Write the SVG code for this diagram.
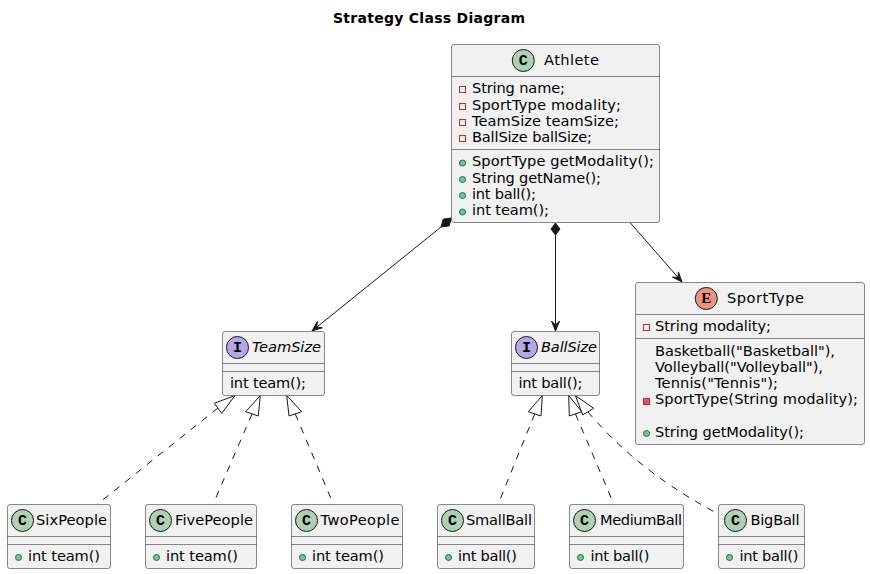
<svg xmlns="http://www.w3.org/2000/svg" width="870" height="574" viewBox="0 0 870 574">
<style>
text{font-family:"DejaVu Sans",sans-serif;font-size:14.6px;fill:#000}
.title{font-weight:bold;font-size:14px}
.box{fill:#F1F1F1;stroke:#181818;stroke-width:.5}
.sep{stroke:#181818;stroke-width:.5;fill:none}
.ic{stroke:#181818;stroke-width:1}
.c{fill:#ADD1B2}.i{fill:#B4A7E5}.e{fill:#EB937F}
text.g{font-family:"Liberation Mono",monospace;font-weight:bold;font-size:15px;text-anchor:middle}
text.gs{font-family:"Liberation Serif",serif;font-weight:bold;font-size:15px;text-anchor:middle}
.abs{font-style:italic}
.pa{fill:none;stroke:#C82930;stroke-width:1}
.pm{fill:#F24D5C;stroke:#C82930;stroke-width:1}
.pub{fill:#84BE84;stroke:#038048;stroke-width:1}
.l{fill:none;stroke:#181818;stroke-width:1}
.d{stroke-dasharray:7 7}
.h{fill:#181818;stroke:#181818;stroke-width:1}
.t{fill:none;stroke:#181818;stroke-width:1}
</style>
<text class="title" x="333" y="23" textLength="192">Strategy Class Diagram</text>
<g id="connectors">
<path class="l" d="M441,227L312,331"/>
<path class="h" d="M451.500,218L443.300,219.100L441,227L449.100,225.900Z"/>
<path class="h" d="M312,331L322.300,327.800L316.700,327.200L317.300,321.600Z"/>
<path class="l" d="M555.500,235V331"/>
<path class="h" d="M555.500,223L551,229L555.500,235L560,229Z"/>
<path class="h" d="M555.500,331L559.500,321L555.500,325L551.500,321Z"/>
<path class="l" d="M630,222.500L682,282"/>
<path class="h" d="M682,282L678.400,271.900L678,277.500L672.400,277.100Z"/>
<path class="l d" d="M218,408L97,504.500"/>
<path class="t" d="M235,395.500L214.300,403.300L221.700,413.300Z"/>
<path class="l d" d="M252,414L213,504.500"/>
<path class="t" d="M260.300,395.500L245.700,411.700L258.300,416Z"/>
<path class="l d" d="M295.300,414L333.500,504.500"/>
<path class="t" d="M286.700,395.500L301.700,411.700L289,416Z"/>
<path class="l d" d="M534.700,414L498,504.500"/>
<path class="t" d="M542.300,395.500L528.300,411.700L541,416Z"/>
<path class="l d" d="M575.500,414L614,504.500"/>
<path class="t" d="M568.700,395.500L581.700,411.700L569.300,416Z"/>
<path class="l d" d="M588,412C612,440 650,478 718.500,514"/>
<path class="t" d="M575.300,395.500L593.700,408.300L582.700,415Z"/>
</g>
<g id="Athlete">
<rect class="box" x="451.500" y="44.500" width="208" height="178" rx="2.500"/>
<path class="sep" d="M451.500,76.500H659.500M451.500,149.500H659.500"/>
<circle class="ic c" cx="523.300" cy="60.500" r="11"/><text class="g" x="523.300" y="65">C</text>
<text x="544" y="65" textLength="55">Athlete</text>
<rect class="pa" x="459.500" y="86.500" width="6" height="6"/><text x="472" y="93" textLength="93">String name;</text>
<rect class="pa" x="459.500" y="103.500" width="6" height="6"/><text x="472" y="110" textLength="149">SportType modality;</text>
<rect class="pa" x="459.500" y="119.500" width="6" height="6"/><text x="472" y="126" textLength="147">TeamSize teamSize;</text>
<rect class="pa" x="459.500" y="135.500" width="6" height="6"/><text x="472" y="142" textLength="120">BallSize ballSize;</text>
<circle class="pub" cx="462.500" cy="163" r="3"/><text x="472" y="166" textLength="182">SportType getModality();</text>
<circle class="pub" cx="462.500" cy="179.500" r="3"/><text x="472" y="183" textLength="129">String getName();</text>
<circle class="pub" cx="462.500" cy="195.500" r="3"/><text x="472" y="199" textLength="64">int ball();</text>
<circle class="pub" cx="462.500" cy="212" r="3"/><text x="472" y="215" textLength="77">int team();</text>
</g>
<g id="SportType">
<rect class="box" x="635.500" y="282.500" width="229" height="162" rx="2.500"/>
<path class="sep" d="M635.500,314.500H864.500M635.500,338.500H864.500"/>
<circle class="ic e" cx="706.300" cy="298.500" r="11"/><text class="gs" x="706.300" y="303">E</text>
<text x="727" y="303" textLength="77">SportType</text>
<rect class="pa" x="643.500" y="324.500" width="6" height="6"/><text x="655" y="331" textLength="116">String modality;</text>
<text x="655" y="356" textLength="180">Basketball("Basketball"),</text>
<text x="655" y="372" textLength="168">Volleyball("Volleyball"),</text>
<text x="655" y="388" textLength="123">Tennis("Tennis");</text>
<rect class="pm" x="643.500" y="398.500" width="6" height="6"/><text x="655" y="404" textLength="203">SportType(String modality);</text>
<circle class="pub" cx="646.500" cy="433.500" r="3"/><text x="655" y="437" textLength="149">String getModality();</text>
</g>
<g id="TeamSize">
<rect class="box" x="222.500" y="331.500" width="102" height="64" rx="2.500"/>
<path class="sep" d="M222.500,363.500H324.500M222.500,371.500H324.500"/>
<circle class="ic i" cx="237.500" cy="347.500" r="11"/><text class="g" x="237.500" y="352">I</text>
<text class="abs" x="252" y="352" textLength="69">TeamSize</text>
<text x="230" y="388" textLength="76">int team();</text>
</g>
<g id="BallSize">
<rect class="box" x="511.500" y="331.500" width="88" height="64" rx="2.500"/>
<path class="sep" d="M511.500,363.500H599.500M511.500,371.500H599.500"/>
<circle class="ic i" cx="526.500" cy="347.500" r="11"/><text class="g" x="526.500" y="352">I</text>
<text class="abs" x="541" y="352" textLength="56">BallSize</text>
<text x="518.500" y="388" textLength="64">int ball();</text>
</g>
<g id="SixPeople">
<rect class="box" x="7.500" y="504.500" width="103" height="64" rx="2.500"/>
<path class="sep" d="M7.500,536.500H110.500M7.500,544.500H110.500"/>
<circle class="ic c" cx="22.500" cy="520.500" r="11"/><text class="g" x="22.500" y="525">C</text>
<text x="36" y="525" textLength="71">SixPeople</text>
<circle class="pub" cx="18.500" cy="557.500" r="3"/><text x="28" y="561" textLength="72">int team()</text>
</g>
<g id="FivePeople">
<rect class="box" x="145.500" y="504.500" width="111" height="64" rx="2.500"/>
<path class="sep" d="M145.500,536.500H256.500M145.500,544.500H256.500"/>
<circle class="ic c" cx="160.500" cy="520.500" r="11"/><text class="g" x="160.500" y="525">C</text>
<text x="175" y="525" textLength="78">FivePeople</text>
<circle class="pub" cx="156.500" cy="557.500" r="3"/><text x="166" y="561" textLength="72">int team()</text>
</g>
<g id="TwoPeople">
<rect class="box" x="291.500" y="504.500" width="111" height="64" rx="2.500"/>
<path class="sep" d="M291.500,536.500H402.500M291.500,544.500H402.500"/>
<circle class="ic c" cx="306.500" cy="520.500" r="11"/><text class="g" x="306.500" y="525">C</text>
<text x="320.500" y="525" textLength="79">TwoPeople</text>
<circle class="pub" cx="302.500" cy="557.500" r="3"/><text x="312" y="561" textLength="72">int team()</text>
</g>
<g id="SmallBall">
<rect class="box" x="437.500" y="504.500" width="97" height="64" rx="2.500"/>
<path class="sep" d="M437.500,536.500H534.500M437.500,544.500H534.500"/>
<circle class="ic c" cx="452.500" cy="520.500" r="11"/><text class="g" x="452.500" y="525">C</text>
<text x="466" y="525" textLength="66">SmallBall</text>
<circle class="pub" cx="448.500" cy="557.500" r="3"/><text x="458" y="561" textLength="59">int ball()</text>
</g>
<g id="MediumBall">
<rect class="box" x="569.500" y="504.500" width="114" height="64" rx="2.500"/>
<path class="sep" d="M569.500,536.500H683.500M569.500,544.500H683.500"/>
<circle class="ic c" cx="584.500" cy="520.500" r="11"/><text class="g" x="584.500" y="525">C</text>
<text x="600" y="525" textLength="82">MediumBall</text>
<circle class="pub" cx="580.500" cy="557.500" r="3"/><text x="590.500" y="561" textLength="59">int ball()</text>
</g>
<g id="BigBall">
<rect class="box" x="718.500" y="504.500" width="86" height="64" rx="2.500"/>
<path class="sep" d="M718.500,536.500H804.500M718.500,544.500H804.500"/>
<circle class="ic c" cx="735.500" cy="520.500" r="11"/><text class="g" x="735.500" y="525">C</text>
<text x="750.500" y="525" textLength="49">BigBall</text>
<circle class="pub" cx="729.500" cy="557.500" r="3"/><text x="739.500" y="561" textLength="59">int ball()</text>
</g>
</svg>
